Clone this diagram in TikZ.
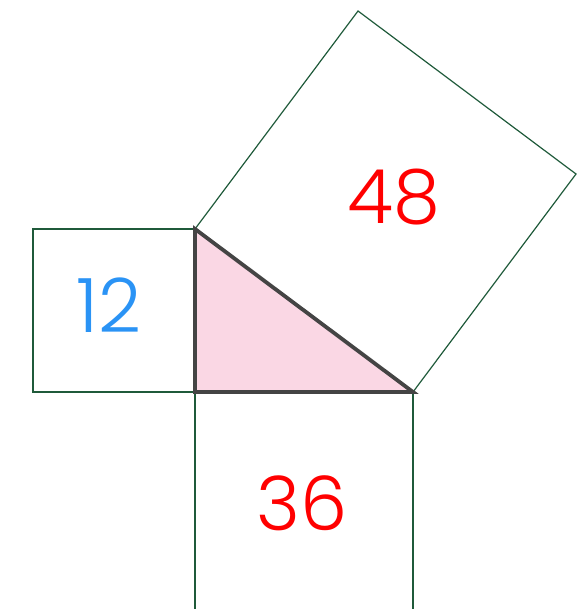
\documentclass[tikz,border=0pt]{standalone}
\usepackage{fontspec}
\setmainfont{Poppins}[UprightFont=* Light]
\usepackage{tikz}
\usetikzlibrary{calc}

\definecolor{sqgreen}{HTML}{1F5A3A}
\definecolor{trigray}{HTML}{444444}
\definecolor{tripink}{HTML}{FAD7E4}
\definecolor{numblue}{HTML}{2A93F5}
\definecolor{numred}{HTML}{FF0000}

\tikzset{
  square/.style={draw=sqgreen, line width=1.2pt, line join=miter},
  triangle/.style={draw=trigray, fill=tripink, line width=3.8pt, line join=miter},
  area/.style={font=\fontsize{75}{75}\selectfont, inner sep=0pt}
}

\begin{document}
\begin{tikzpicture}[x=1pt, y=-1pt]
        \useasboundingbox (0,0) rectangle (576,609);
        % corners of the right triangle
        \coordinate (top) at (195,229);
        \coordinate (right) at (195,392);
        \coordinate (base) at (413,392);

        % squares on the three sides
        \draw[square] (top) -- (right) -- ++(-162,0) -- ++(0,-163) -- cycle;
        \draw[square] (right) -- (base) -- ++(0,220) -- ++(-218,0) -- cycle;
        \draw[square] (top) -- (base) -- ($(base)+(163,-218)$) coordinate (hypr)
            -- ($(top)+(163,-218)$) coordinate (hypl) -- cycle;

        \draw[triangle] (top) -- (right) -- (base) -- cycle;

        \node[area, text=numblue] (small) at (109,305) {12};
        \node[area, text=numred] (large) at (394,197) {48};
        \node[area, text=numred] (middle) at (302,503) {36};
    \end{tikzpicture}
\end{document}
